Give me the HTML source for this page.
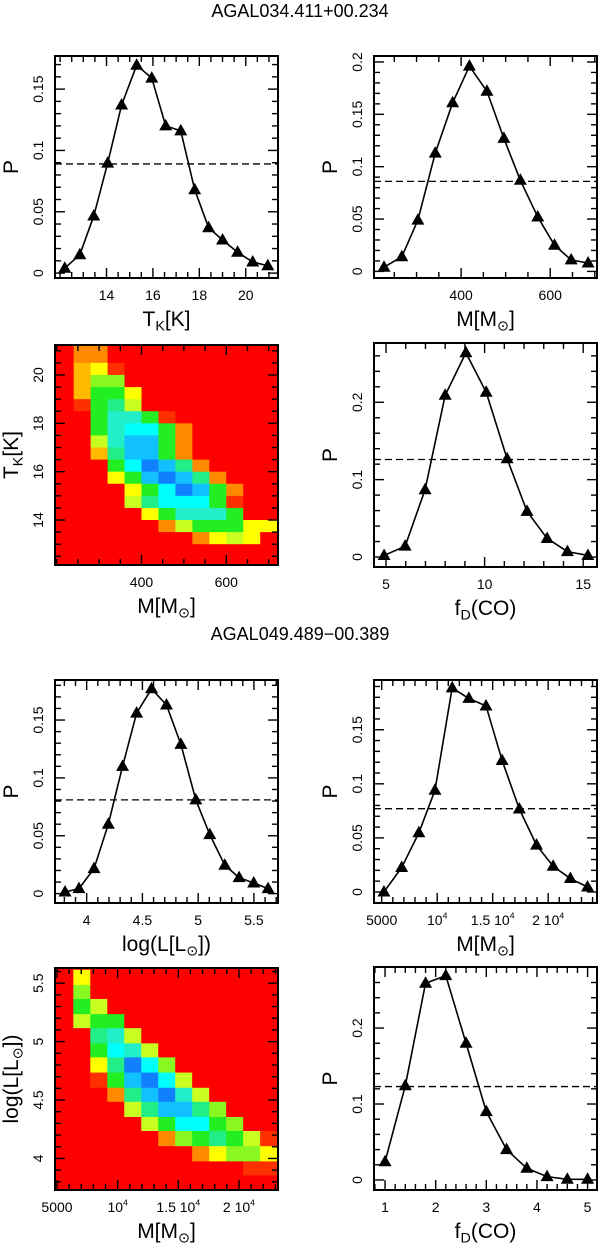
<!DOCTYPE html>
<html><head><meta charset="utf-8"><title>Posterior probability panels</title>
<style>
html,body{margin:0;padding:0;background:#fff;}
svg{display:block;font-family:"Liberation Sans","DejaVu Sans",sans-serif;}
</style></head>
<body>
<svg id="chart" xmlns="http://www.w3.org/2000/svg" width="600" height="1247" viewBox="0 0 600 1247">
<rect x="0" y="0" width="600" height="1247" fill="#fff"/>
<text x="300" y="17" font-size="18" text-anchor="middle">AGAL034.411+00.234</text>
<text x="300" y="640" font-size="18" text-anchor="middle">AGAL049.489−00.389</text>
</svg>
<script>
// ---------- data ----------
const tkX = [12.2,12.85,13.45,14.05,14.65,15.3,15.95,16.55,17.2,17.8,18.4,19.0,19.65,20.3,20.95];
const tkP = [0.004,0.015,0.0465,0.0897,0.137,0.1695,0.159,0.120,0.116,0.068,0.037,0.027,0.017,0.009,0.006];
const tkThr = [0.089];

const m1X = [227,267,303,342,381,418.6,458,496,533,572,609.6,647,685];
const m1P = [0.004,0.014,0.049,0.113,0.161,0.196,0.172,0.127,0.087,0.052,0.025,0.011,0.008];
const m1Thr = [0.086];

const fd1X = [4.9,5.97,6.98,8.0,9.05,10.08,11.14,12.15,13.17,14.2,15.24];
const fd1P = [0.002,0.014,0.087,0.209,0.264,0.213,0.127,0.059,0.024,0.007,0.002];
const fd1Thr = [0.126];

const lumX = [3.806,3.931,4.066,4.194,4.322,4.448,4.582,4.716,4.845,4.979,5.104,5.239,5.367,5.498,5.627];
const lumP = [0.0014,0.0043,0.0216,0.060,0.110,0.156,0.177,0.163,0.129,0.081,0.051,0.0245,0.0138,0.0092,0.0043];
const lumThr = [0.081];

const m2X = [5200,6800,8350,9800,11350,12850,14400,15850,17400,18950,20450,22000,23550];
const m2P = [0.0,0.0226,0.0547,0.094,0.1887,0.179,0.172,0.1216,0.0767,0.0433,0.0238,0.0124,0.0046];
const m2Thr = [0.077];

const fd2X = [1,1.4,1.8,2.2,2.6,3.0,3.4,3.8,4.2,4.6,5.0];
const fd2P = [0.024,0.124,0.259,0.269,0.180,0.090,0.040,0.0154,0.0044,0.0009,0.0009];
const fd2Thr = [0.123];

const hm1X = [220,260,300,340,380,420,460,500,540,580,620,660,700];
const hm1Y = [21.25,20.75,20.25,19.75,19.25,18.75,18.25,17.75,17.25,16.75,16.25,15.75,15.25,14.75,14.25,13.75,13.25,12.75,12.25];
const hm1Z = [
 [0,2,2,0,0,0,0,0,0,0,0,0,0],
 [0,2,2,0,0,0,0,0,0,0,0,0,0],
 [0,3,4,1,0,0,0,0,0,0,0,0,0],
 [0,3,6,6,0,0,0,0,0,0,0,0,0],
 [0,3,7,7,4,0,0,0,0,0,0,0,0],
 [0,1,7,8,5,0,0,0,0,0,0,0,0],
 [0,0,7,9,9,7,1,0,0,0,0,0,0],
 [0,0,7,9,10,10,7,2,0,0,0,0,0],
 [0,0,5,9,11,11,7,2,0,0,0,0,0],
 [0,0,3,8,11,11,7,2,0,0,0,0,0],
 [0,0,0,7,10,12,11,8,2,0,0,0,0],
 [0,0,0,4,7,11,12,11,8,2,0,0,0],
 [0,0,0,0,4,7,10,12,11,7,2,0,0],
 [0,0,0,0,5,8,10,10,10,7,1,0,0],
 [0,0,0,0,0,4,7,9,9,9,7,0,0],
 [0,0,0,0,0,0,2,5,7,7,7,4,4],
 [0,0,0,0,0,0,0,0,2,4,5,4,0],
 [0,0,0,0,0,0,0,0,0,0,0,0,0],
 [0,0,0,0,0,0,0,0,0,0,0,0,0]
];

const hm2X = [5645,7045,8445,9845,11245,12645,14045,15445,16845,18245,19645,21045,22445];
const hm2Y = [5.55,5.42,5.30,5.17,5.05,4.92,4.80,4.67,4.54,4.42,4.29,4.17,4.04,3.91,3.79];
const hm2Z = [
 [0,4,0,0,0,0,0,0,0,0,0,0,0],
 [0,6,0,0,0,0,0,0,0,0,0,0,0],
 [0,7,5,0,0,0,0,0,0,0,0,0,0],
 [0,5,7,7,0,0,0,0,0,0,0,0,0],
 [0,0,8,9,5,0,0,0,0,0,0,0,0],
 [0,0,7,10,9,5,0,0,0,0,0,0,0],
 [0,0,4,8,12,10,6,0,0,0,0,0,0],
 [0,0,1,7,11,12,10,5,0,0,0,0,0],
 [0,0,0,2,8,11,12,9,5,0,0,0,0],
 [0,0,0,0,5,8,11,11,8,6,0,0,0],
 [0,0,0,0,0,5,7,10,10,7,6,0,0],
 [0,0,0,0,0,0,2,6,7,8,7,5,1],
 [0,0,0,0,0,0,0,0,2,4,6,6,4],
 [0,0,0,0,0,0,0,0,0,0,0,1,1],
 [0,0,0,0,0,0,0,0,0,0,0,0,0]
];

const levelColors = ["#ff0000","#ff3000","#ff8a00","#ffba00","#ffff00","#c8ff20","#88f820","#22ee22","#22ee88","#22eec8","#00ffff","#10c0ff","#1080ff"];

const tkXTicks = [14,16,18,20];           const tkXLabels = ["14","16","18","20"];
const pYTicks5 = [0,0.05,0.1,0.15];        const pYLabels5 = ["0","0.05","0.1","0.15"];
const pYTicksB = [0,0.05,0.1,0.15,0.2];    const pYLabelsB = ["0","0.05","0.1","0.15","0.2"];
const mXTicks = [400,600];                 const mXLabels = ["400","600"];
const tkYTicks = [14,16,18,20];            const tkYLabels = ["14","16","18","20"];
const fd1XTicks = [5,10,15];               const fd1XLabels = ["5","10","15"];
const pYTicks1 = [0,0.1,0.2];              const pYLabels1 = ["0","0.1","0.2"];
const lumXTicks = [4,4.5,5,5.5];           const lumXLabels = ["4","4.5","5","5.5"];
const m2XTicks = [5000,10000,15000,20000]; const m2XLabels = ["5000","10^4","1.5 10^4","2 10^4"];
const fd2XTicks = [1,2,3,4,5];             const fd2XLabels = ["1","2","3","4","5"];

// ---------- drawing ----------
const NS = "http://www.w3.org/2000/svg";
const svg = document.getElementById("chart");
function mk(tag, parent){ const e = document.createElementNS(NS, tag); parent.appendChild(e); return e; }
function setA(e, o){ for (const k in o) e.setAttribute(k, o[k]); }
function scale(d0,d1,r0,r1){ return v => r0 + (v-d0)/(d1-d0)*(r1-r0); }
function gen(d0,d1,step){ const out=[]; let v=Math.ceil(d0/step-1e-9)*step; while(v<=d1+1e-9){ out.push(+v.toFixed(6)); v+=step; } return out; }

function richText(t, segs, size){
  segs.forEach(s=>{
    const ts = mk("tspan", t);
    if (s.sub){ setA(ts,{"font-size":size*0.68,"dy":size*0.22}); }
    else if (s.sup){ setA(ts,{"font-size":size*0.62,"dy":-size*0.45}); }
    else if (s.back){ setA(ts,{"dy":s.back}); }
    ts.textContent = s.t;
  });
}

function tickLine(parent, x1, y1, x2, y2){
  const l = mk("line", parent);
  setA(l,{x1:x1,y1:y1,x2:x2,y2:y2,stroke:"#000","stroke-width":1.4});
  return l;
}

function panel(cfg){
  const g = mk("g", svg);
  
  
  const b = cfg.box;
  const sx = scale(cfg.xd[0], cfg.xd[1], b.x0, b.x1);
  const sy = scale(cfg.yd[0], cfg.yd[1], b.y1, b.y0);
  const clipId = "clip-" + cfg.name;
  const cp = mk("clipPath", g); cp.setAttribute("id", clipId);
  const cr = mk("rect", cp); setA(cr,{x:b.x0,y:b.y0,width:b.x1-b.x0,height:b.y1-b.y0});

  if (cfg.hm){
    const hg = mk("g", g); hg.setAttribute("clip-path","url(#"+clipId+")");
    
    
    const bg = mk("rect", hg); setA(bg,{x:b.x0,y:b.y0,width:b.x1-b.x0,height:b.y1-b.y0,fill:levelColors[0]});
    
    
    const X = cfg.hm.x, Y = cfg.hm.y, Z = cfg.hm.z;
    const dx = Math.abs(X[1]-X[0]), dy = Math.abs(Y[1]-Y[0]);
    for (let r=0;r<Y.length;r++) for (let c=0;c<X.length;c++){
      const xa = sx(X[c]-dx/2), xb = sx(X[c]+dx/2);
      const ya = sy(Y[r]+dy/2), yb = sy(Y[r]-dy/2);
      const cell = mk("rect", hg);
      setA(cell,{x:xa.toFixed(2),y:ya.toFixed(2),width:(xb-xa+0.6).toFixed(2),height:(yb-ya+0.6).toFixed(2),fill:levelColors[Z[r][c]]});
      
      
    }
  }

  const fr = mk("rect", g);
  setA(fr,{x:b.x0,y:b.y0,width:b.x1-b.x0,height:b.y1-b.y0,fill:"none",stroke:"#000","stroke-width":2});
  
  

  const tg = mk("g", g);
  
  
  const isMaj = (v, arr) => arr.some(m => Math.abs(m-v) < 1e-6);
  gen(cfg.xd[0], cfg.xd[1], cfg.xMinor).forEach(v=>{
    const L = isMaj(v, cfg.xTicks) ? 10 : 6, x = sx(v);
    tickLine(tg, x, b.y1, x, b.y1-L);
    tickLine(tg, x, b.y0, x, b.y0+L);
  });
  gen(cfg.yd[0], cfg.yd[1], cfg.yMinor).forEach(v=>{
    const L = isMaj(v, cfg.yTicks) ? 10 : 6, y = sy(v);
    tickLine(tg, b.x0, y, b.x0+L, y);
    tickLine(tg, b.x1, y, b.x1-L, y);
  });

  cfg.xTicks.forEach((v,i)=>{
    const t = mk("text", g);
    setA(t,{x:sx(v),y:b.y1+22,"font-size":14,"text-anchor":"middle"});
    const lab = cfg.xLabels[i];
    if (lab.indexOf("^")>=0){ const p = lab.split("^"); richText(t,[{t:p[0]},{t:p[1],sup:true}],14); }
    else t.textContent = lab;
    
    
  });
  cfg.yTicks.forEach((v,i)=>{
    const x = b.x0-12, y = sy(v);
    const t = mk("text", g);
    setA(t,{x:x,y:y,"font-size":14,"text-anchor":"middle",transform:"rotate(-90 "+x+" "+y+")"});
    t.textContent = cfg.yLabels[i];
    
    
  });

  const xt = mk("text", g);
  setA(xt,{x:(b.x0+b.x1)/2,y:b.y1+48,"font-size":21,"text-anchor":"middle"});
  richText(xt, cfg.xTitle, 21);
  
  
  const yx = b.x0-37, yy = (b.y0+b.y1)/2;
  const yt = mk("text", g);
  setA(yt,{x:yx,y:yy,"font-size":21,"text-anchor":"middle",transform:"rotate(-90 "+yx+" "+yy+")"});
  richText(yt, cfg.yTitle, 21);
  
  

  if (cfg.xs){
    const thr = mk("line", g);
    setA(thr,{x1:b.x0,x2:b.x1,y1:sy(cfg.thr[0]),y2:sy(cfg.thr[0]),stroke:"#000","stroke-width":1.3,"stroke-dasharray":"7,4"});
    
    
    const pl = mk("polyline", g);
    setA(pl,{points:cfg.xs.map((v,i)=>sx(v).toFixed(2)+","+sy(cfg.ys[i]).toFixed(2)).join(" "),fill:"none",stroke:"#000","stroke-width":1.6,"stroke-linejoin":"round"});
    
    
    cfg.xs.forEach((v,i)=>{
      const x = sx(v), y = sy(cfg.ys[i]);
      const tri = mk("polygon", g);
      setA(tri,{points:(x)+","+(y-7)+" "+(x-6.5)+","+(y+4.5)+" "+(x+6.5)+","+(y+4.5),fill:"#000"});
      
      
    });
  }
}

const TK = [{t:"T"},{t:"K",sub:true},{t:"[K]",back:-4.6}];
const MS = [{t:"M[M"},{t:"⊙",sub:true},{t:"]",back:-4.6}];
const FD = [{t:"f"},{t:"D",sub:true},{t:"(CO)",back:-4.6}];
const LL = [{t:"log(L[L"},{t:"⊙",sub:true},{t:"])",back:-4.6}];
const PP = [{t:"P"}];

panel({name:"tk-probability-panel",box:{x0:55,x1:278,y0:56,y1:278},xd:[11.78,21.39],yd:[-0.004,0.177],
  xTicks:tkXTicks,xLabels:tkXLabels,xMinor:0.5,yTicks:pYTicks5,yLabels:pYLabels5,yMinor:0.01,
  xTitle:TK,yTitle:PP,xs:tkX,ys:tkP,thr:tkThr});
panel({name:"mass-probability-panel-1",box:{x0:374,x1:597,y0:56,y1:278},xd:[204.5,705],yd:[-0.0063,0.2057],
  xTicks:mXTicks,xLabels:mXLabels,xMinor:50,yTicks:pYTicksB,yLabels:pYLabelsB,yMinor:0.01,
  xTitle:MS,yTitle:PP,xs:m1X,ys:m1P,thr:m1Thr});
panel({name:"mass-tk-heatmap",box:{x0:55,x1:278,y0:345,y1:565},xd:[196,722],yd:[12.14,21.24],
  xTicks:mXTicks,xLabels:mXLabels,xMinor:50,yTicks:tkYTicks,yLabels:tkYLabels,yMinor:0.5,
  xTitle:MS,yTitle:TK,hm:{x:hm1X,y:hm1Y,z:hm1Z}});
panel({name:"fd-probability-panel-1",box:{x0:374,x1:597,y0:343,y1:567},xd:[4.39,15.7],yd:[-0.0129,0.2766],
  xTicks:fd1XTicks,xLabels:fd1XLabels,xMinor:1,yTicks:pYTicks1,yLabels:pYLabels1,yMinor:0.02,
  xTitle:FD,yTitle:PP,xs:fd1X,ys:fd1P,thr:fd1Thr});
panel({name:"luminosity-probability-panel",box:{x0:55,x1:278,y0:680,y1:903},xd:[3.716,5.716],yd:[-0.0081,0.1846],
  xTicks:lumXTicks,xLabels:lumXLabels,xMinor:0.1,yTicks:pYTicks5,yLabels:pYLabels5,yMinor:0.01,
  xTitle:LL,yTitle:PP,xs:lumX,ys:lumP,thr:lumThr});
panel({name:"mass-probability-panel-2",box:{x0:374,x1:597,y0:680,y1:903},xd:[4306,24400],yd:[-0.0102,0.196],
  xTicks:m2XTicks,xLabels:m2XLabels,xMinor:1000,yTicks:pYTicks5,yLabels:pYLabels5,yMinor:0.01,
  xTitle:MS,yTitle:PP,xs:m2X,ys:m2P,thr:m2Thr});
panel({name:"mass-luminosity-heatmap",box:{x0:55,x1:278,y0:968,y1:1190},xd:[4835,23220],yd:[3.73,5.63],
  xTicks:m2XTicks,xLabels:m2XLabels,xMinor:1000,yTicks:lumXTicks,yLabels:lumXLabels,yMinor:0.1,
  xTitle:MS,yTitle:LL,hm:{x:hm2X,y:hm2Y,z:hm2Z}});
panel({name:"fd-probability-panel-2",box:{x0:374,x1:597,y0:967,y1:1190},xd:[0.782,5.186],yd:[-0.0132,0.2804],
  xTicks:fd2XTicks,xLabels:fd2XLabels,xMinor:0.2,yTicks:pYTicks1,yLabels:pYLabels1,yMinor:0.02,
  xTitle:FD,yTitle:PP,xs:fd2X,ys:fd2P,thr:fd2Thr});
</script>
</body></html>
